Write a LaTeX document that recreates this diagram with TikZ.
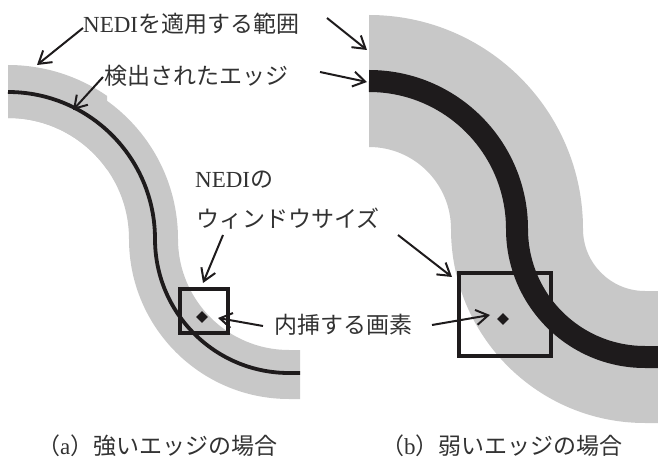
\documentclass[tikz,border=0pt]{standalone}
\usepackage{fontspec}
\setmainfont{Liberation Serif}
\newfontfamily\jp{Noto Sans CJK JP}
\usetikzlibrary{arrows.meta,shapes.geometric}
\definecolor{band}{RGB}{200,200,200}
\definecolor{ink}{RGB}{30,27,28}
\definecolor{txt}{RGB}{50,50,50}
\begin{document}
\begin{tikzpicture}[x=1pt,y=1pt,
  lbl/.style={anchor=base west, inner sep=0pt, text=txt, font=\fontsize{23}{27}\selectfont},
  arr/.style={draw=ink, line width=2pt, -{Straight Barb[length=12pt,width=15pt,line width=2pt]}},
  winbox/.style={draw=ink, line width=4pt, inner sep=0pt},
  px/.style={diamond, fill=ink, inner sep=0pt, minimum size=12pt}]
\useasboundingbox (0,0) rectangle (658,461);
% ---------- panel (a) ----------
\fill[band] (8,392) arc[start angle=90,end angle=0,radius=170]
  arc[start angle=180,end angle=270,radius=111] -- (300,111) -- (300,62) -- (289,62)
  arc[start angle=270,end angle=180,radius=160]
  arc[start angle=0,end angle=90,radius=121] -- cycle;
\begin{scope}
\clip (8,0) rectangle (107,461);
\fill[band] (8,396) arc[start angle=90,end angle=0,radius=174] -- (129,222)
  arc[start angle=0,end angle=90,radius=121] -- cycle;
\end{scope}
\draw[ink, line width=3.8pt] (8,369) arc[start angle=90,end angle=0,radius=147]
  arc[start angle=180,end angle=270,radius=134] -- (300,88);
% ---------- panel (b) ----------
\fill[band] (369,446) arc[start angle=90,end angle=0,radius=214]
  arc[start angle=180,end angle=270,radius=62] -- (658,170) -- (658,38) -- (645,38)
  arc[start angle=270,end angle=180,radius=194]
  arc[start angle=0,end angle=90,radius=82] -- cycle;
\draw[ink, line width=22pt] (369,380) arc[start angle=90,end angle=0,radius=148]
  arc[start angle=180,end angle=270,radius=128] -- (658,104);
% ---------- windows and pixels ----------
\node[winbox, minimum width=48pt, minimum height=44pt] (boxa) at (204,150) {};
\node[winbox, minimum width=92pt, minimum height=83pt] (boxb) at (505,146.5) {};
\node[px] (pxa) at (202,144) {};
\node[px] (pxb) at (503,142) {};
% ---------- labels ----------
\node[lbl] (lrange) at (83,428.5) {NEDI{\jp を適用する範囲}};
\node[lbl] (ledge) at (104,376.5) {{\jp 検出されたエッジ}};
\node[lbl] (lwin1) at (195,273) {NEDI{\jp の}};
\node[lbl] (lwin2) at (196,233.5) {{\jp ウィンドウサイズ}};
\node[lbl] (lpix) at (274,127.5) {{\jp 内挿する画素}};
\node[lbl] (capa) at (37,7) {{\jp （}a{\jp ）強いエッジの場合}};
\node[lbl] (capb) at (381,7) {{\jp （}b{\jp ）弱いエッジの場合}};
% ---------- arrow ends ----------
\coordinate (s1) at (83,433);  \coordinate (t1) at (37,396);
\coordinate (s2) at (103,384); \coordinate (t2) at (73,351);
\coordinate (s3) at (327,443); \coordinate (t3) at (367,411);
\coordinate (s4) at (320,389); \coordinate (t4) at (367,379);
\coordinate (s5) at (223,226); \coordinate (t5) at (203,178);
\coordinate (s6) at (398,226); \coordinate (t6) at (452,184);
\coordinate (s7) at (263,135); \coordinate (t7) at (218,143);
\coordinate (s8) at (432,136); \coordinate (t8) at (490,146);
\draw[arr] (s1) -- (t1);
\draw[arr] (s2) -- (t2);
\draw[arr] (s3) -- (t3);
\draw[arr] (s4) -- (t4);
\draw[arr] (s5) -- (t5);
\draw[arr] (s6) -- (t6);
\draw[arr] (s7) -- (t7);
\draw[arr] (s8) -- (t8);
\end{tikzpicture}
\end{document}
